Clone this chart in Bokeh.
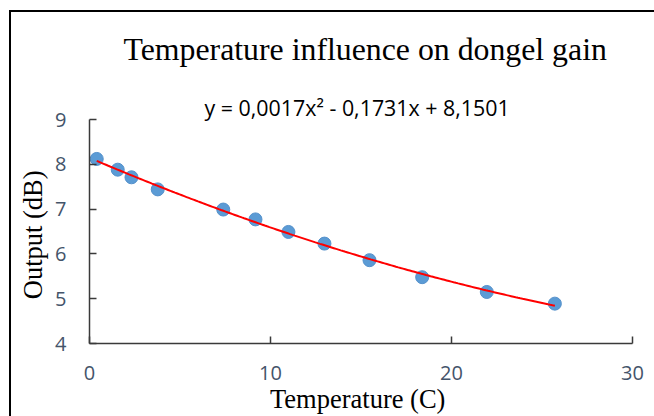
import numpy as np
from bokeh.plotting import figure
from bokeh.models import Range1d, Title, FixedTicker
from bokeh.embed import file_html
from bokeh.resources import INLINE

# ---- data ----
temps = [0.4, 1.56, 2.32, 3.77, 7.39, 9.17, 10.99, 12.98, 15.47, 18.38, 21.95, 25.71]
outputs = [8.12, 7.88, 7.71, 7.44, 6.99, 6.77, 6.49, 6.23, 5.86, 5.48, 5.15, 4.89]
x_ticks = [0, 10, 20, 30]
y_ticks = [4, 5, 6, 7, 8, 9]
title_text = "Temperature influence on dongel gain"
equation_text = "y = 0,0017x\u00b2 - 0,1731x + 8,1501"
x_title = "Temperature  (C)"
y_title = "Output  (dB)"

# ---- geometry ----
FIG_W, FIG_H = 654, 416
F_LEFT, F_RIGHT, F_TOP, F_BOTTOM = 89, 632, 119, 343

p = figure(width=FIG_W, height=FIG_H, output_backend="svg", toolbar_location=None,
           x_range=Range1d(0, 30), y_range=Range1d(4, 9),
           min_border_left=F_LEFT, min_border_right=FIG_W - F_RIGHT,
           min_border_top=F_TOP, min_border_bottom=FIG_H - F_BOTTOM)
p.outline_line_color = None
p.background_fill_color = "white"
p.border_fill_color = None
# chart-area border (top and left edges are inside the window)
p.styles = {
    "background": "linear-gradient(#000, #000) 9px 10px / 2px 420px no-repeat, "
                  "linear-gradient(#000, #000) 9px 10px / 660px 2px no-repeat, #fff"
}
p.xgrid.visible = False
p.ygrid.visible = False

axis_color = "#3A3A3A"
tick_color = "#44546A"
for ax, ticks in ((p.xaxis, x_ticks), (p.yaxis, y_ticks)):
    ax.ticker = FixedTicker(ticks=ticks)
    ax.axis_line_color = axis_color
    ax.axis_line_width = 1.5
    ax.major_tick_line_color = axis_color
    ax.major_tick_line_width = 1.5
    ax.major_tick_in = 7
    ax.major_tick_out = 0
    ax.minor_tick_line_color = None
    ax.major_label_text_font = "Open Sans"
    ax.major_label_text_font_size = "20px"
    ax.major_label_text_color = tick_color
    ax.axis_label_text_font = "Liberation Serif"
    ax.axis_label_text_font_size = "26.5px"
    ax.axis_label_text_font_style = "normal"
    ax.axis_label_text_color = "black"

p.xaxis.major_label_standoff = 22
p.yaxis.major_label_standoff = 23
p.xaxis.axis_label = x_title
p.xaxis.axis_label_standoff = 1
p.yaxis.axis_label = y_title
p.yaxis.axis_label_standoff = 4

# data points
p.scatter(temps, outputs, size=13, fill_color="#5B9BD5", line_color="#5591CB", line_width=1)

# polynomial trendline (order 2) fitted to the points
coef = np.polyfit(temps, outputs, 2)
xs = np.linspace(min(temps), max(temps), 200)
p.line(xs, np.polyval(coef, xs), line_color="#FF0000", line_width=2)

# main title (outer) and trendline equation (next to the plot)
p.title.text = title_text
p.title.align = "left"
p.title.offset = 34
p.title.text_font = "Liberation Serif"
p.title.text_font_size = "31.8px"
p.title.text_font_style = "normal"
p.title.text_color = "black"
p.title.standoff = 52

p.add_layout(Title(text=equation_text, align="left", offset=115,
                   text_font="Open Sans", text_font_size="21.4px",
                   text_font_style="normal", text_color="black", standoff=-4), "above")

open("out.html", "w").write(file_html(p, INLINE))
